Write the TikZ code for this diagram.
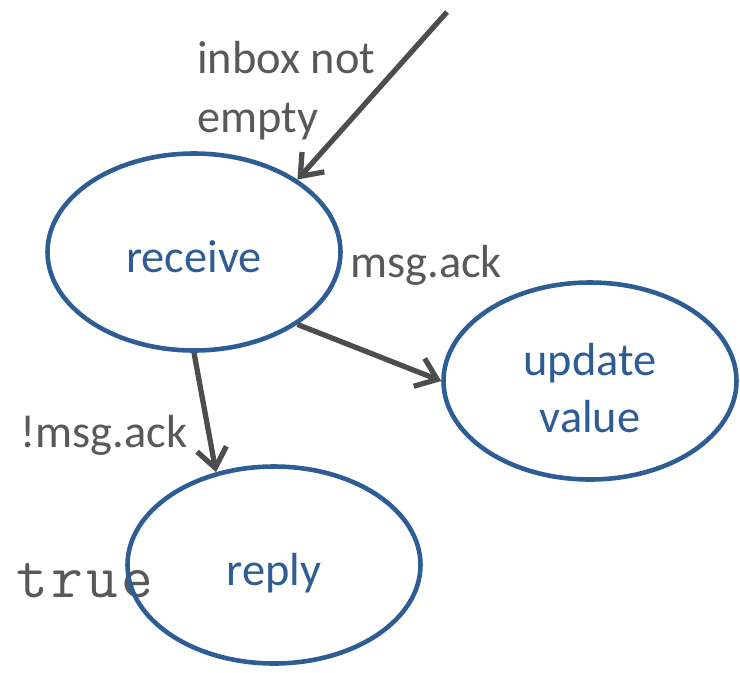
\documentclass[tikz,border=0pt]{standalone}
\usepackage{fontspec}
\setmainfont{Carlito}
\newfontfamily\codefont[LetterSpace=5.0]{Latin Modern Mono}
\usetikzlibrary{arrows.meta, shapes.geometric}

\definecolor{stateblue}{HTML}{2E5C94}
\definecolor{labelgrey}{HTML}{595959}
\definecolor{edgegrey}{HTML}{4D4D4D}

\begin{document}
\begin{tikzpicture}[
    state/.style={draw=stateblue, line width=2.6pt, ellipse, minimum width=5.86cm, minimum height=3.94cm,
        inner sep=0pt, text=stateblue, align=center, font=\fontsize{26.4}{32.5}\selectfont,
        text height=0.8cm, text depth=0cm},
    guard/.style={anchor=base west, inner sep=0pt, text=labelgrey, align=left, font=\fontsize{26.4}{33.5}\selectfont},
    edge/.style={draw=edgegrey, line width=3pt, -{Straight Barb[length=11pt,width=17pt]}}
]
    \useasboundingbox (0,0) rectangle (14.8,-13.44);

    % labels that sit under the outlines
    \node[guard, font=\fontsize{35}{40}\codefont] (lbltrue) at (0.33, -11.94) {true};

    \node[state] (receive) at (3.88, -5.04)  {receive};
    \node[state, text height=2.05cm] (update) at (11.8, -7.62) {update\\value};
    \node[state] (reply)   at (5.48, -11.3)  {reply};

    \coordinate (inbox) at (8.94, -0.24);

    \node[guard] (lblinbox)  at (3.94, -2.64) {inbox not\\empty};
    \node[guard] (lblack)    at (7.0, -5.54)  {msg.ack};
    \node[guard] (lblnotack) at (0.40, -8.94) {!msg.ack};

    \draw[edge] (inbox) -- (receive.35);
    \draw[edge] (receive.-35) -- (update.west);
    \draw[edge] (receive.south) -- (reply.122);
\end{tikzpicture}
\end{document}
